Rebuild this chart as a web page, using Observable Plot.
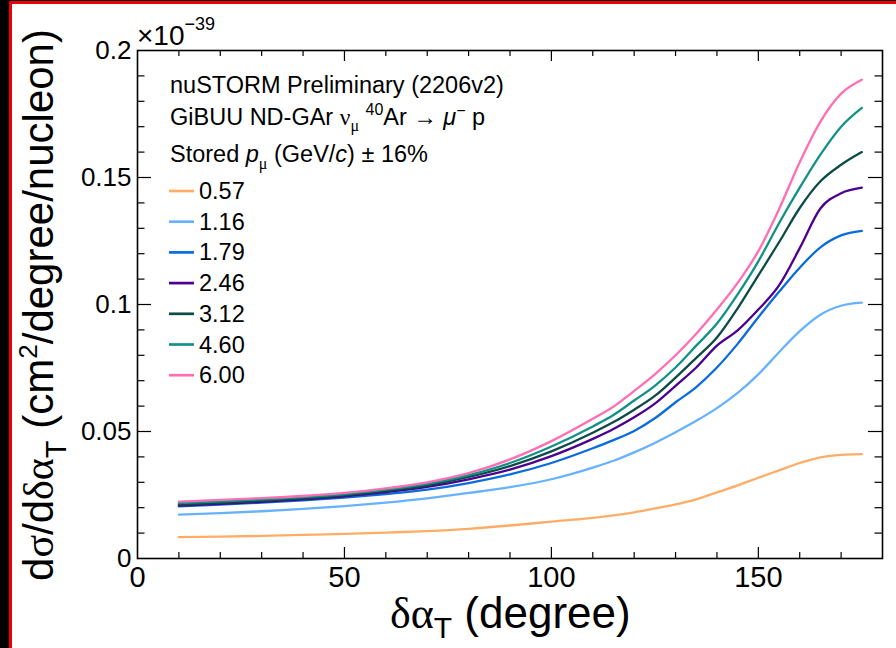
<!DOCTYPE html>
<html>
<head>
<meta charset="utf-8">
<script src="https://cdn.jsdelivr.net/npm/d3@7"></script>
<script src="https://cdn.jsdelivr.net/npm/@observablehq/plot@0.6"></script>
<style>
html, body { margin: 0; padding: 0; background: #fff; }
#wrap { position: relative; width: 896px; height: 648px; overflow: hidden; background: #fff; }
#wrap svg { position: absolute; left: 0; top: 0; }
.bar { position: absolute; }
</style>
</head>
<body>
<div id="wrap">
  <div id="chart"></div>
  <div class="bar" style="left:0;top:0;width:9px;height:648px;background:#000"></div>
  <div class="bar" style="left:0;top:0;width:896px;height:1px;background:#000"></div>
  <div class="bar" style="left:9px;top:1px;width:887px;height:3px;background:#e00"></div>
  <div class="bar" style="left:9px;top:1px;width:2.5px;height:647px;background:#e00"></div>
</div>
<script>
// ---- data (δα_T in degrees; cross-section in units of 1e-39 cm^2/degree/nucleon) ----
const xDeg = [10, 20, 30, 40, 50, 60, 70, 80, 90, 100, 110, 115, 120, 125, 130, 135, 140, 145, 150, 155, 160, 165, 170, 175];
const p057 = [0.0084, 0.0086, 0.0089, 0.0093, 0.0097, 0.0102, 0.0108, 0.0117, 0.0130, 0.0145, 0.0160, 0.0170, 0.0182, 0.0197, 0.0213, 0.0233, 0.0260, 0.0288, 0.0318, 0.0347, 0.0376, 0.0398, 0.0408, 0.0411];
const p116 = [0.0173, 0.0179, 0.0186, 0.0195, 0.0206, 0.0220, 0.0237, 0.0258, 0.0281, 0.0312, 0.0358, 0.0385, 0.0418, 0.0455, 0.0497, 0.0542, 0.0592, 0.0652, 0.0725, 0.0812, 0.0895, 0.0960, 0.0995, 0.1007];
const p179 = [0.0205, 0.0212, 0.0220, 0.0229, 0.0240, 0.0254, 0.0271, 0.0297, 0.0331, 0.0376, 0.0434, 0.0466, 0.0502, 0.0552, 0.0615, 0.0675, 0.0752, 0.0845, 0.0950, 0.1050, 0.1145, 0.1225, 0.1272, 0.1290];
const p246 = [0.0208, 0.0215, 0.0223, 0.0233, 0.0245, 0.0261, 0.0282, 0.0312, 0.0350, 0.0403, 0.0471, 0.0510, 0.0556, 0.0610, 0.0680, 0.0752, 0.0838, 0.0898, 0.0980, 0.1075, 0.1222, 0.1378, 0.1438, 0.1460];
const p312 = [0.0212, 0.0219, 0.0227, 0.0237, 0.0249, 0.0266, 0.0288, 0.0321, 0.0364, 0.0422, 0.0495, 0.0537, 0.0586, 0.0640, 0.0712, 0.0790, 0.0870, 0.0985, 0.1115, 0.1245, 0.1380, 0.1485, 0.1550, 0.1600];
const p460 = [0.0218, 0.0225, 0.0233, 0.0242, 0.0254, 0.0271, 0.0294, 0.0328, 0.0376, 0.0441, 0.0520, 0.0565, 0.0622, 0.0680, 0.0752, 0.0838, 0.0925, 0.1040, 0.1170, 0.1320, 0.1460, 0.1590, 0.1700, 0.1774];
const p600 = [0.0224, 0.0231, 0.0238, 0.0246, 0.0258, 0.0276, 0.0300, 0.0336, 0.0390, 0.0462, 0.0550, 0.0598, 0.0660, 0.0725, 0.0800, 0.0885, 0.0980, 0.1085, 0.1210, 0.1375, 0.1560, 0.1720, 0.1830, 0.1885];

const seriesNames = ["0.57", "1.16", "1.79", "2.46", "3.12", "4.60", "6.00"];
const seriesColors = ["#ffad66", "#66b2ff", "#0a6cdc", "#4b0092", "#0c4b47", "#139189", "#ff6eb4"];
const seriesValues = [p057, p116, p179, p246, p312, p460, p600];

const xTicks = [0, 50, 100, 150];
const xTickLabels = ["0", "50", "100", "150"];
const yTicks = [0, 0.05, 0.1, 0.15, 0.2];
const yTickLabels = ["0", "0.05", "0.1", "0.15", "0.2"];

// ---- build table ----
const rows = seriesNames.flatMap((s, i) => xDeg.map((x, j) => ({x, y: seriesValues[i][j], s})));

const W = 896, H = 648, mL = 137, mR = 14, mT = 50, mB = 90;
const fw = W - mL - mR, fh = H - mT - mB;
const xMinor = d3.range(10, 180, 10).filter(d => d % 50 !== 0);
const xMajor = xTicks.filter(d => d > 0);
const yMinor = d3.range(1, 20).filter(d => d % 5 !== 0).map(d => d / 100);
const yMajor = yTicks.filter(d => d > 0 && d < 0.2);

const sans = "'Liberation Sans', Arial, Helvetica, sans-serif";
const serif = "'Liberation Serif', 'Times New Roman', serif";

const tk = {stroke: "black", strokeWidth: 1.2};
const plot = Plot.plot({
  width: W, height: H,
  marginLeft: mL, marginRight: mR, marginTop: mT, marginBottom: mB,
  x: {domain: [0, 180]},
  y: {domain: [0, 0.2]},
  color: {domain: seriesNames, range: seriesColors},
  style: {fontFamily: sans, background: "white", color: "black", overflow: "visible"},
  marks: [
    Plot.line(rows, {x: "x", y: "y", z: "s", stroke: "s", curve: "monotone-x", strokeWidth: 2.3}),
    // inward ticks: bottom / top
    Plot.tickX(xMinor, {x: d => d, insetTop: fh - 6, ...tk}),
    Plot.tickX(xMajor, {x: d => d, insetTop: fh - 11, ...tk}),
    Plot.tickX(xMinor, {x: d => d, insetBottom: fh - 6, ...tk}),
    Plot.tickX(xMajor, {x: d => d, insetBottom: fh - 11, ...tk}),
    // inward ticks: left / right
    Plot.tickY(yMinor, {y: d => d, insetRight: fw - 7.5, ...tk}),
    Plot.tickY(yMajor, {y: d => d, insetRight: fw - 14, ...tk}),
    Plot.tickY(yMinor, {y: d => d, insetLeft: fw - 7.5, ...tk}),
    Plot.tickY(yMajor, {y: d => d, insetLeft: fw - 14, ...tk}),
    Plot.frame({stroke: "black", strokeWidth: 1.6}),
    Plot.axisX({ticks: xTicks, tickSize: 0, tickPadding: 8, fontSize: 29, label: null,
      tickFormat: d => xTickLabels[xTicks.indexOf(d)]}),
    Plot.axisY({ticks: yTicks, tickSize: 0, tickPadding: 6, fontSize: 26, label: null,
      tickFormat: d => yTickLabels[yTicks.indexOf(d)]})
  ]
});
document.getElementById("chart").appendChild(plot);

// ---- rich text helper ----
const svg = d3.select(plot);
function richText(parent, x, y, size, parts, anchor = "start") {
  const t = parent.append("text").attr("x", x).attr("y", y)
    .attr("font-size", size).attr("font-family", sans).attr("fill", "black")
    .attr("text-anchor", anchor);
  let cur = 0;
  for (const p of parts) {
    const shift = p.shift || 0;
    const ts = t.append("tspan").text(p.t).attr("dy", shift - cur);
    cur = shift;
    if (p.size) ts.attr("font-size", p.size);
    if (p.font) ts.attr("font-family", p.font);
    if (p.italic) ts.attr("font-style", "italic");
  }
  return t;
}

// exponent
richText(svg, 137, 45, 28, [{t: "×10"}, {t: "−39", size: 18, shift: -15}]);

// x title
richText(svg, 390, 628, 44, [
  {t: "δα", font: serif},
  {t: "T", size: 30, shift: 10},
  {t: " (degree)", shift: 0}
]);

// y title
const gy = svg.append("g").attr("transform", "translate(53,305) rotate(-90)");
richText(gy, 0, 0, 42, [
  {t: "d"}, {t: "σ", font: serif}, {t: "/d"}, {t: "δα", font: serif},
  {t: "T", size: 29, shift: 13},
  {t: " (cm", shift: 0},
  {t: "2", size: 26, shift: -16},
  {t: "/degree/nucleon)", shift: 0}
], "middle");

// legend header
const lx = 170, lf = 23.5, ls = 16;
richText(svg, lx, 93, lf, [{t: "nuSTORM Preliminary (2206v2)"}]);
richText(svg, lx, 125, lf, [
  {t: "GiBUU ND-GAr "}, {t: "ν", font: serif},
  {t: "μ", font: serif, size: ls, shift: 6},
  {t: " ", shift: 0},
  {t: "40", size: ls, shift: -10},
  {t: "Ar → ", shift: 0},
  {t: "μ", italic: true},
  {t: "−", size: ls, shift: -9},
  {t: " p", shift: 0}
]);
richText(svg, lx, 162, lf, [
  {t: "Stored "}, {t: "p", italic: true},
  {t: "μ", font: serif, size: ls, shift: 7},
  {t: " (GeV/", shift: 0}, {t: "c", italic: true}, {t: ") ± 16%"}
]);

// legend entries
seriesNames.forEach((s, i) => {
  const by = 199 + i * 30.7;
  svg.append("line").attr("x1", 169).attr("x2", 194).attr("y1", by - 8).attr("y2", by - 8)
    .attr("stroke", seriesColors[i]).attr("stroke-width", 2.7);
  richText(svg, 199, by, lf, [{t: s}]);
});
</script>
</body>
</html>
